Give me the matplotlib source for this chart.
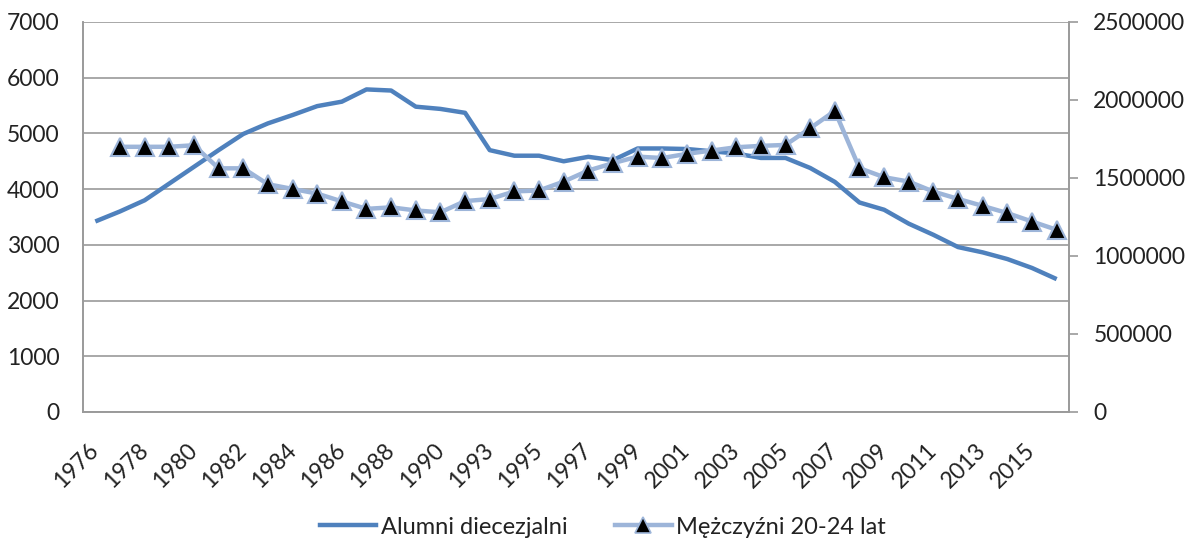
import numpy as np
import matplotlib
matplotlib.use('Agg')
import matplotlib.pyplot as plt
from matplotlib.ticker import MultipleLocator, FuncFormatter
from matplotlib.lines import Line2D

plt.rcParams['font.family'] = ['Lato', 'DejaVu Sans']

# categories (one year missing in the source table between 1990 and 1993)
years = list(range(1976, 1992)) + list(range(1993, 2017))

# Alumni diecezjalni (left axis)
alumni = [3420, 3600, 3800, 4100, 4400, 4700, 4990, 5180, 5330, 5490,
          5570, 5790, 5770, 5480, 5440, 5370, 4700, 4600, 4600, 4500,
          4580, 4520, 4730, 4730, 4720, 4680, 4640, 4560, 4560, 4380,
          4130, 3760, 3630, 3380, 3180, 2960, 2865, 2745, 2585, 2385]

# Mezczyzni 20-24 lat (right axis), no value for 1976
men = [np.nan, 1700000, 1700000, 1700000, 1710000, 1562000, 1562000, 1460000, 1430000, 1400000,
       1350000, 1302000, 1312000, 1292000, 1280000, 1352000, 1365000, 1414000, 1420000, 1477000,
       1548000, 1595000, 1637000, 1628000, 1655000, 1676000, 1697000, 1706000, 1712000, 1819000,
       1930000, 1563000, 1505000, 1477000, 1413000, 1366000, 1321000, 1275000, 1221000, 1168000]

x = np.arange(len(years))
blue = '#4F81BD'
light = '#9DB5D9'
grey = '#9A9A9A'
fs = 16.5

fig = plt.figure(figsize=(11.87, 5.40), dpi=100)
ax = fig.add_axes([83/1187, 128/540, 986/1187, 390/540])
ax2 = ax.twinx()

ax.plot(x, alumni, color=blue, lw=3.2, solid_capstyle='butt', zorder=3)
ax2.plot(x, men, color=light, lw=3.2, marker='^', markersize=13,
         markerfacecolor='black', markeredgecolor=light, markeredgewidth=1.5, zorder=3)

ax.set_xlim(-0.5, len(years) - 0.5)
ax.set_ylim(0, 7000)
ax.yaxis.set_major_locator(MultipleLocator(1000))
ax2.set_ylim(0, 2500000)
ax2.yaxis.set_major_locator(MultipleLocator(500000))
ax2.yaxis.set_major_formatter(FuncFormatter(lambda v, p: '%d' % v))

ax.grid(axis='y', color=grey, lw=1.2, zorder=0)
ax.set_axisbelow(True)

for a in (ax, ax2):
	a.spines['top'].set_visible(False)
	for s in ('left', 'right', 'bottom'):
		a.spines[s].set_color(grey)
		a.spines[s].set_linewidth(1.2)

ax.tick_params(axis='y', length=0, pad=17, labelsize=fs, labelcolor='#222222')
ax2.tick_params(axis='y', length=6.5, width=1.2, color=grey, pad=11, labelsize=fs, labelcolor='#222222')

ticks = x[::2]
ax.set_xticks(ticks)
ax.set_xticklabels([str(years[i]) for i in ticks], rotation=45, ha='right', va='center',
                   rotation_mode='anchor')
ax.tick_params(axis='x', length=0, pad=25, labelsize=fs, labelcolor='#222222')

handles = [Line2D([], [], color=blue, lw=3.2),
           Line2D([], [], color=light, lw=3.2, marker='^', markersize=11,
                  markerfacecolor='black', markeredgecolor=light, markeredgewidth=1.2)]
labels = ['Alumni diecezjalni', 'M\u0119\u017cczy\u017ani 20-24 lat']
fig.legend(handles, labels, loc='center', bbox_to_anchor=(603/1187, 1 - 527/540), ncol=2,
           frameon=False, fontsize=17, handlelength=2.4, handletextpad=0.2, columnspacing=2.0,
           labelcolor='#222222')

plt.savefig('out.png', dpi=100)
